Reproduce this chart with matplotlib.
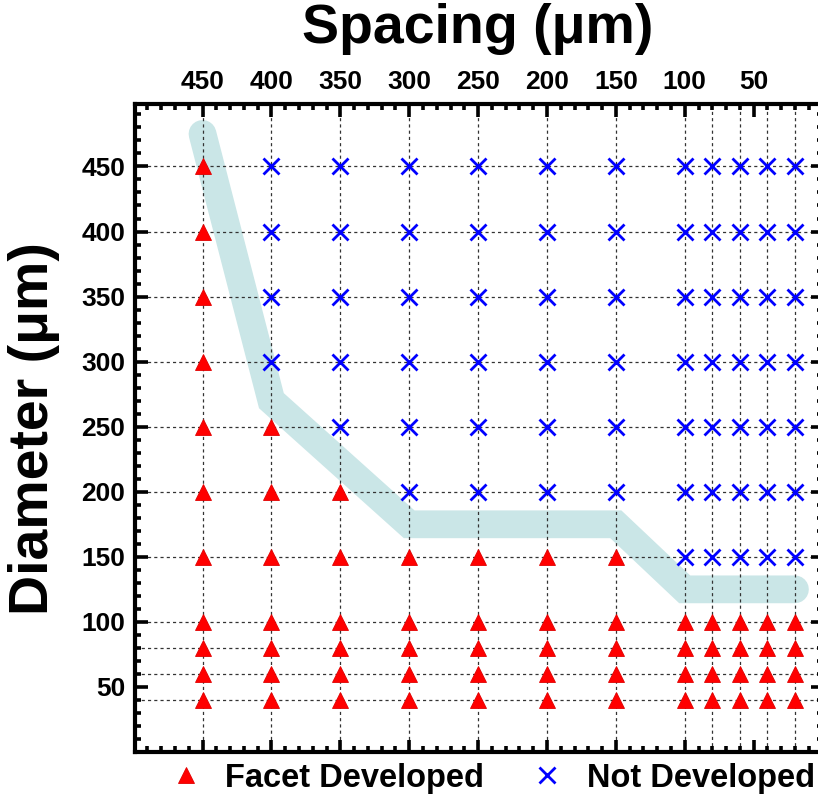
import numpy as np
import matplotlib
matplotlib.use("Agg")
import matplotlib.pyplot as plt
from matplotlib.ticker import MultipleLocator
from matplotlib.lines import Line2D

# pillar spacing (um) and diameter (um) tested
spacing = [450, 400, 350, 300, 250, 200, 150, 100, 80, 60, 40, 20]
diameter = [450, 400, 350, 300, 250, 200, 150, 100, 80, 60, 40]

# largest diameter at which a facet developed, per spacing column
max_facet_diameter = [450, 250, 200, 150, 150, 150, 150, 100, 100, 100, 100, 100]

# hand-drawn boundary between the two regimes
boundary_spacing = [450, 400, 300, 150, 100, 20]
boundary_diameter = [475, 270, 175, 175, 125, 125]

plt.rcParams['font.family'] = ['Liberation Sans', 'DejaVu Sans']
plt.rcParams['font.weight'] = 'bold'


def split_points():
    facet_x, facet_y, none_x, none_y = [], [], [], []
    for s, dmax in zip(spacing, max_facet_diameter):
        for d in diameter:
            if d <= dmax:
                facet_x.append(s)
                facet_y.append(d)
            else:
                none_x.append(s)
                none_y.append(d)
    return facet_x, facet_y, none_x, none_y


def main():
    W, H = 818, 798
    fig = plt.figure(figsize=(W / 100, H / 100), dpi=100)
    left, right, top, bottom = 135, 822.5, 104, 752
    ax = fig.add_axes([left / W, 1 - bottom / H, (right - left) / W, (bottom - top) / H])

    facet_x, facet_y, none_x, none_y = split_points()

    # dotted grid only at the tested values
    for s in spacing:
        ax.axvline(s, color='#333333', lw=0.9, ls=(0, (2.5, 2.5)), zorder=1.5)
    for d in diameter:
        ax.axhline(d, color='#333333', lw=0.9, ls=(0, (2.5, 2.5)), zorder=1.5)

    ax.plot(boundary_spacing, boundary_diameter, color='#CAE6E7', lw=20,
            solid_capstyle='round', solid_joinstyle='miter', zorder=1)

    ax.plot(facet_x, facet_y, ls='none', marker='^', ms=11.5, color='#FF0000',
            mec='#E00000', mew=0.6, zorder=3)
    ax.plot(none_x, none_y, ls='none', marker='x', ms=11, color='#0000FF',
            mew=2.0, zorder=3)

    ax.set_xlim(499, 0)
    ax.set_ylim(0, 498)

    ax.xaxis.set_major_locator(MultipleLocator(50))
    ax.xaxis.set_minor_locator(MultipleLocator(10))
    ax.yaxis.set_major_locator(MultipleLocator(50))
    ax.yaxis.set_minor_locator(MultipleLocator(10))
    ax.tick_params(which='both', direction='in', top=True, bottom=True,
                   left=True, right=True, labeltop=True, labelbottom=False,
                   labelleft=True, labelright=False, width=2.6)
    ax.tick_params(which='major', length=9, labelsize=19, pad=7)
    ax.tick_params(which='minor', length=4.5)
    ax.set_yticks([50, 100, 150, 200, 250, 300, 350, 400, 450])
    ax.set_xticks([450, 400, 350, 300, 250, 200, 150, 100, 50])
    for lab in ax.get_xticklabels() + ax.get_yticklabels():
        lab.set_fontweight('bold')
    for sp in ax.spines.values():
        sp.set_linewidth(3)

    fig.text(478 / W, 1 - 43 / H, 'Spacing (\u03bcm)', fontsize=40,
             fontweight='bold', ha='center', va='baseline')
    fig.text(34 / W, 1 - 429 / H, 'Diameter (\u03bcm)', fontsize=40,
             fontweight='bold', ha='center', va='center', rotation=90)

    handles = [
        Line2D([], [], ls='none', marker='^', ms=11.5, color='#FF0000', mec='#E00000', mew=0.6),
        Line2D([], [], ls='none', marker='x', ms=11, color='#0000FF', mew=2.0),
    ]
    fig.legend(handles, ['Facet Developed', 'Not Developed'], loc='center',
               bbox_to_anchor=(488 / W, 1 - 778 / H), ncol=2, frameon=False,
               prop={'size': 23.5, 'weight': 'bold'}, handlelength=1.5,
               handletextpad=0.45, columnspacing=1.2, borderpad=0)

    fig.savefig('out.png', dpi=100)


if __name__ == "__main__":
    main()
